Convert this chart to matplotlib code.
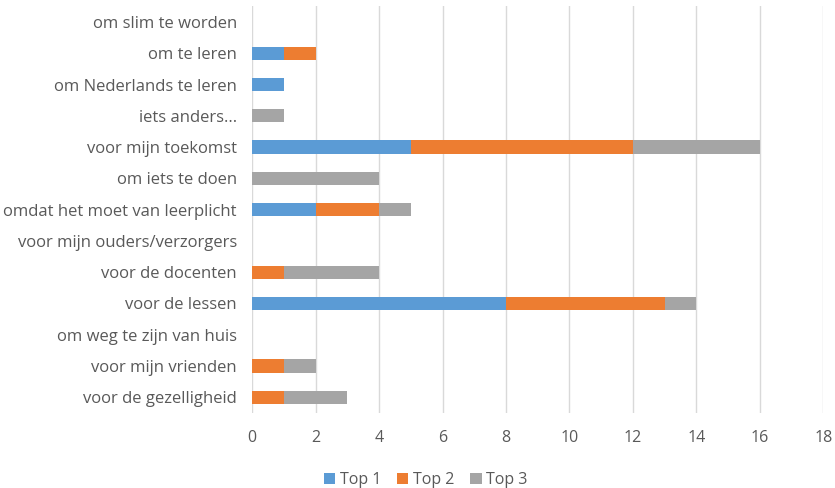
import numpy as np
import matplotlib.pyplot as plt

categories = [
    "voor de gezelligheid",
    "voor mijn vrienden",
    "om weg te zijn van huis",
    "voor de lessen",
    "voor de docenten",
    "voor mijn ouders/verzorgers",
    "omdat het moet van leerplicht",
    "om iets te doen",
    "voor mijn toekomst",
    "iets anders...",
    "om Nederlands te leren",
    "om te leren",
    "om slim te worden",
]
top1 = [0, 0, 0, 8, 0, 0, 2, 0, 5, 0, 1, 1, 0]
top2 = [1, 1, 0, 5, 1, 0, 2, 0, 7, 0, 0, 1, 0]
top3 = [2, 1, 0, 1, 3, 0, 1, 4, 4, 1, 0, 0, 0]

plt.rcParams['font.family'] = ['Open Sans', 'DejaVu Sans']
text_color = '#595959'

fig = plt.figure(figsize=(8.35, 4.88), dpi=100)
ax = fig.add_axes([0.302, 0.154, 0.684, 0.833])

y = np.arange(len(categories))
h = 0.42
t1 = np.array(top1)
t2 = np.array(top2)
t3 = np.array(top3)
ax.barh(y, t1, height=h, color='#5B9BD5', label='Top 1', zorder=3)
ax.barh(y, t2, left=t1, height=h, color='#ED7D31', label='Top 2', zorder=3)
ax.barh(y, t3, left=t1 + t2, height=h, color='#A5A5A5', label='Top 3', zorder=3)

ax.set_xlim(0, 18)
ax.set_xticks(range(0, 19, 2))
ax.set_ylim(-0.5, len(categories) - 0.5)
ax.set_yticks(y)
ax.set_yticklabels(categories)
ax.grid(axis='x', color='#d9d9d9', linewidth=1, zorder=0)
for s in ax.spines.values():
    s.set_visible(False)
ax.tick_params(axis='y', length=0, pad=11, labelsize=12, labelcolor=text_color)
ax.tick_params(axis='x', length=0, pad=12, labelsize=11.5, labelcolor=text_color)

fig.legend(loc='lower center', bbox_to_anchor=(0.51, -0.03), ncol=3, frameon=False,
           fontsize=11.5, labelcolor=text_color, handlelength=0.7, handleheight=0.7,
           handletextpad=0.3, columnspacing=1.0)

fig.savefig('out.png', dpi=100)
